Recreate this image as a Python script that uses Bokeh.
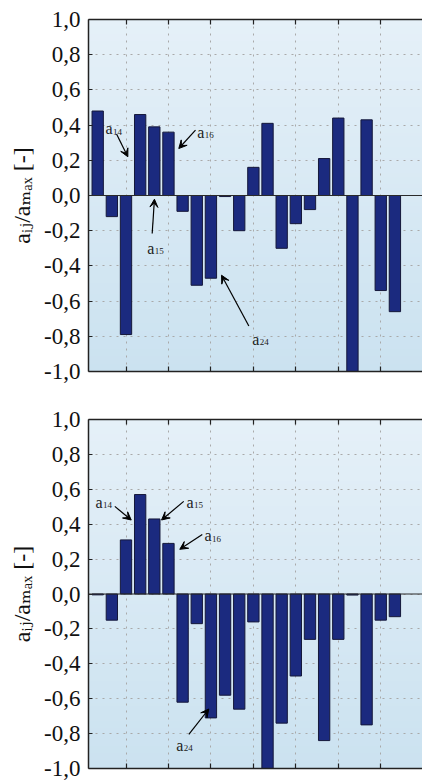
import numpy as np
from bokeh.plotting import figure
from bokeh.layouts import column
from bokeh.models import (FixedTicker, CustomJSTickFormatter, LinearAxis, Span,
                          Arrow, VeeHead, Range1d, ColumnDataSource)
from bokeh.core.properties import value
from bokeh.embed import file_html
from bokeh.resources import INLINE

# ---------------- data ----------------
bar_index = list(range(1, 23))

coeffs_top = [0.48, -0.12, -0.79, 0.46, 0.39, 0.36, -0.09, -0.51, -0.47, -0.006,
              -0.20, 0.16, 0.41, -0.30, -0.16, -0.08, 0.21, 0.44, -1.00, 0.43,
              -0.54, -0.66]
coeffs_bottom = [-0.005, -0.15, 0.31, 0.57, 0.43, 0.29, -0.62, -0.17, -0.71, -0.58,
                 -0.66, -0.16, -1.00, -0.74, -0.47, -0.26, -0.84, -0.26, -0.006, -0.75,
                 -0.15, -0.13]

y_ticks = [-1.0, -0.8, -0.6, -0.4, -0.2, 0.0, 0.2, 0.4, 0.6, 0.8, 1.0]
x_ticks = [3, 6, 9, 12, 15, 18, 21]

# annotation labels (subscripts) and positions in data coordinates
ann_top_names = ["14", "16", "15", "24"]
ann_top_text_x = [1.55, 8.03, 4.50, 11.92]
ann_top_text_y = [0.38, 0.358, -0.30, -0.817]
ann_top_from_x = [2.33, 7.91, 4.85, 11.68]
ann_top_from_y = [0.35, 0.371, -0.216, -0.741]
ann_top_to_x = [3.13, 6.73, 5.01, 9.75]
ann_top_to_y = [0.22, 0.267, -0.021, -0.453]

ann_bot_names = ["14", "15", "16", "24"]
ann_bot_text_x = [0.84, 7.28, 8.55, 6.55]
ann_bot_text_y = [0.525, 0.525, 0.335, -0.867]
ann_bot_from_x = [2.21, 7.08, 8.39, 7.44]
ann_bot_from_y = [0.502, 0.531, 0.341, -0.805]
ann_bot_to_x = [3.37, 5.51, 6.80, 8.85]
ann_bot_to_y = [0.424, 0.424, 0.256, -0.659]

# ---------------- style ----------------
FONT = "Liberation Serif, DejaVu Serif, serif"
X0, X1 = 0.35, 23.95
BAR_FILL = "#1b2a7f"
BAR_LINE = "#15183a"
TOP_RGB = (229, 240, 248)
BOT_RGB = (203, 226, 240)


def gradient_image(n=96):
    img = np.empty((n, 1), dtype=np.uint32)
    view = img.view(dtype=np.uint8).reshape((n, 1, 4))
    for i in range(n):
        t = i / (n - 1)
        view[i, 0, 0] = int(round(BOT_RGB[0] + (TOP_RGB[0] - BOT_RGB[0]) * t))
        view[i, 0, 1] = int(round(BOT_RGB[1] + (TOP_RGB[1] - BOT_RGB[1]) * t))
        view[i, 0, 2] = int(round(BOT_RGB[2] + (TOP_RGB[2] - BOT_RGB[2]) * t))
        view[i, 0, 3] = 255
    return img


def make_panel(values, names, tx, ty, fx, fy, ex, ey, height, b_top, b_bottom):
    p = figure(width=422, height=height, x_range=Range1d(X0, X1), y_range=Range1d(-1, 1),
               output_backend="svg", toolbar_location=None,
               min_border_left=88, min_border_right=0,
               min_border_top=b_top, min_border_bottom=b_bottom)
    p.outline_line_color = None
    p.background_fill_color = "#dcebf5"
    p.border_fill_color = "white"

    p.image_rgba(image=[gradient_image()], x=X0, y=-1, dw=X1 - X0, dh=2, level="image")

    # grids
    p.xgrid.ticker = FixedTicker(ticks=x_ticks)
    p.ygrid.ticker = FixedTicker(ticks=y_ticks)
    for g in (p.xgrid, p.ygrid):
        g.grid_line_color = "#a9a9a9"
        g.grid_line_dash = "2 5"
        g.grid_line_width = 1

    # y axis
    ya = p.yaxis[0]
    ya.ticker = FixedTicker(ticks=y_ticks)
    ya.formatter = CustomJSTickFormatter(code="return tick.toFixed(1).replace('.', ',');")
    ya.axis_label = "aᵢⱼ/aₘₐₓ [-]"
    ya.axis_label_text_font = FONT
    ya.axis_label_text_font_style = "normal"
    ya.axis_label_text_font_size = "24px"
    ya.axis_label_text_color = "#111111"
    ya.axis_label_standoff = 6
    ya.major_label_text_font = FONT
    ya.major_label_text_font_size = "23px"
    ya.major_label_text_color = "#111111"
    ya.major_label_standoff = 8
    ya.major_tick_in = 4
    ya.major_tick_out = 0
    ya.minor_tick_in = 0
    ya.minor_tick_out = 0
    ya.axis_line_color = "#222222"
    ya.axis_line_width = 1.5
    ya.major_tick_line_color = "#222222"

    # x axes (bottom + top), ticks only
    xb = p.xaxis[0]
    xt = LinearAxis()
    p.add_layout(xt, "above")
    for ax in (xb, xt):
        ax.ticker = FixedTicker(ticks=x_ticks)
        ax.formatter = CustomJSTickFormatter(code="return '';")
        ax.major_label_text_font_size = "0px"
        ax.major_label_standoff = 0
        ax.major_tick_in = 5
        ax.major_tick_out = 0
        ax.minor_tick_in = 0
        ax.minor_tick_out = 0
        ax.axis_line_color = "#222222"
        ax.axis_line_width = 1.5
        ax.major_tick_line_color = "#222222"
        ax.major_tick_line_width = 1.2

    # bars
    src = ColumnDataSource(dict(x=bar_index, top=values))
    p.vbar(x="x", top="top", bottom=0, width=0.8, source=src,
           fill_color=BAR_FILL, line_color=BAR_LINE, line_width=1)

    # zero line
    p.add_layout(Span(location=0, dimension="width", line_color="#2a2a2a", line_width=1.2))

    # annotations
    asrc = ColumnDataSource(dict(x=tx, y=ty, a=["a"] * len(names), sub=names))
    p.text(x="x", y="y", text="a", source=asrc, text_font=value(FONT),
           text_font_size="16px", text_color="#222222",
           text_align="left", text_baseline="alphabetic")
    p.text(x="x", y="y", text="sub", source=asrc, text_font=value(FONT),
           text_font_size="9px", text_color="#222222", x_offset=7.5, y_offset=3,
           text_align="left", text_baseline="alphabetic")
    for i in range(len(names)):
        p.add_layout(Arrow(end=VeeHead(size=8, line_color="black", fill_color="black",
                                       line_width=1),
                           x_start=fx[i], y_start=fy[i], x_end=ex[i], y_end=ey[i],
                           line_color="black", line_width=1.2))
    return p


p1 = make_panel(coeffs_top, ann_top_names, ann_top_text_x, ann_top_text_y,
                ann_top_from_x, ann_top_from_y, ann_top_to_x, ann_top_to_y,
                height=395, b_top=19, b_bottom=24)
p2 = make_panel(coeffs_bottom, ann_bot_names, ann_bot_text_x, ann_bot_text_y,
                ann_bot_from_x, ann_bot_from_y, ann_bot_to_x, ann_bot_to_y,
                height=386, b_top=24, b_bottom=13)

layout = column(p1, p2, spacing=0)
open("out.html", "w").write(file_html(layout, INLINE))
